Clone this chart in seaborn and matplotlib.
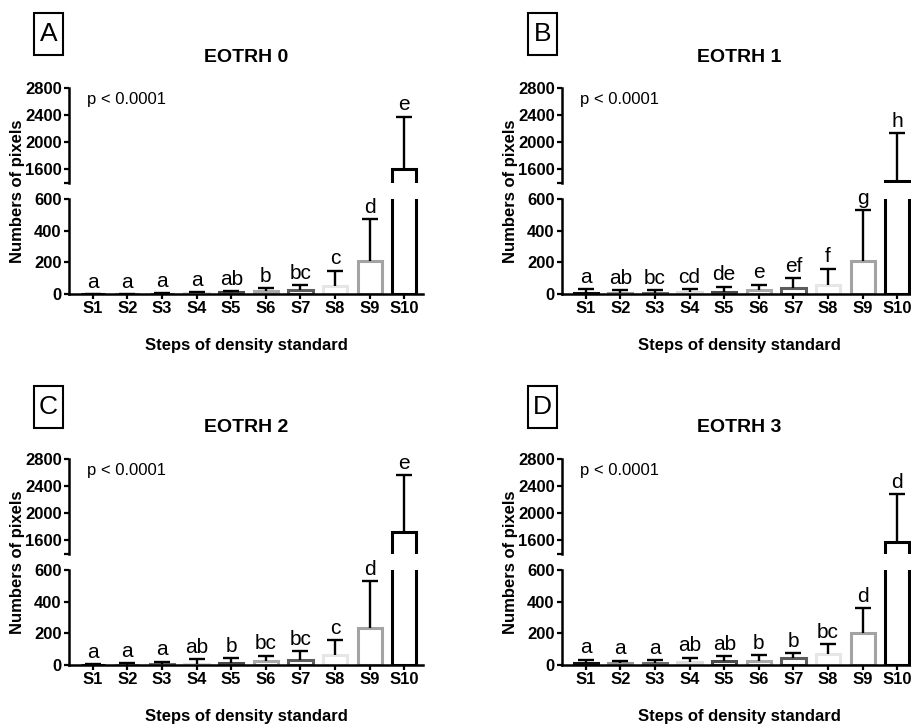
"""
Pixel counts per density step (S1-S10) for EOTRH grades 0-3
- broken y axis: lower part 0-600, upper part 1400-2800
- hollow bars with SD (upper only) and letters for group differences
"""

import numpy as np
import pandas as pd
import matplotlib.pyplot as plt
from matplotlib.patches import Rectangle
import seaborn as sns

sns.set_style('ticks')
plt.rcParams['font.family'] = ['Liberation Sans', 'DejaVu Sans']
for key in ['text.color', 'axes.labelcolor', 'xtick.color', 'ytick.color', 'axes.edgecolor']:
    plt.rcParams[key] = 'black'

STEPS = ['S1', 'S2', 'S3', 'S4', 'S5', 'S6', 'S7', 'S8', 'S9', 'S10']
EDGE_COLORS = ['#111111', '#999999', '#6e6e6e', '#dddddd', '#4a4a4a',
               '#aaaaaa', '#5c5c5c', '#e6e6e6', '#a3a3a3', '#000000']

PANEL_TAGS = ['A', 'B', 'C', 'D']
TITLES = ['EOTRH 0', 'EOTRH 1', 'EOTRH 2', 'EOTRH 3']
P_TEXT = 'p < 0.0001'

# means and upper SD
MEAN_0 = [1, 1, 2, 4, 10, 18, 24, 48, 210, 1610]
SD_0 = [0, 0, 4, 6, 8, 20, 32, 99, 265, 770]
LETTERS_0 = ['a', 'a', 'a', 'a', 'ab', 'b', 'bc', 'c', 'd', 'e']

MEAN_1 = [6, 5, 6, 10, 15, 23, 38, 59, 210, 1427]
SD_1 = [27, 18, 17, 23, 32, 36, 60, 101, 322, 706]
LETTERS_1 = ['a', 'ab', 'bc', 'cd', 'de', 'e', 'ef', 'f', 'g', 'h']

MEAN_2 = [3, 3, 5, 9, 15, 23, 33, 65, 232, 1731]
SD_2 = [4, 8, 16, 29, 30, 36, 53, 93, 300, 835]
LETTERS_2 = ['a', 'a', 'a', 'ab', 'b', 'bc', 'bc', 'c', 'd', 'e']

MEAN_3 = [11, 10, 12, 17, 25, 27, 42, 69, 202, 1581]
SD_3 = [23, 17, 20, 30, 32, 34, 34, 64, 156, 699]
LETTERS_3 = ['a', 'a', 'a', 'ab', 'ab', 'b', 'b', 'bc', 'd', 'd']

LO_TICKS = [0, 200, 400, 600]
HI_TICKS = [1600, 2000, 2400, 2800]
HI_BOTTOM = 1400

FIG_W, FIG_H = 912, 726


def px_rect(left, top, width, height):
    return [left / FIG_W, (FIG_H - top - height) / FIG_H, width / FIG_W, height / FIG_H]


def style_axis(ax):
    ax.tick_params(axis='both', direction='out', length=3.8, width=1.6,
                   labelsize=12, pad=1.5)
    for lab in ax.get_yticklabels() + ax.get_xticklabels():
        lab.set_fontweight('bold')
    for side in ['left', 'bottom']:
        ax.spines[side].set_linewidth(1.8)
    sns.despine(ax=ax)


def draw_panel(fig, idx, mean, sd, letters):
    col, row = idx % 2, idx // 2
    left = 69 + col * 493
    top_hi = 88 + row * 371
    top_lo = top_hi + 111
    ax_hi = fig.add_axes(px_rect(left, top_hi, 354, 95))
    ax_lo = fig.add_axes(px_rect(left, top_lo, 354, 95))

    df = pd.DataFrame({'step': STEPS, 'mean': mean, 'sd': sd})
    for ax in (ax_hi, ax_lo):
        sns.barplot(data=df, x='step', y='mean', hue='step', palette=EDGE_COLORS,
                    saturation=1, fill=False, width=0.7, linewidth=2.2,
                    errorbar=None, legend=False, ax=ax)
        xs = ax.get_xticks()
        eb = ax.errorbar(xs, df['mean'], yerr=[np.zeros(len(df)), df['sd']], fmt='none',
                         ecolor='black', elinewidth=1.7, capsize=5.5, capthick=1.7, zorder=3)
        # only the upper cap, like the original
        eb[1][0].set_visible(False)
        ax.set_xlim(-0.685, 9.54)
        ax.set_xlabel('')
        ax.set_ylabel('')

    ax_lo.set_ylim(LO_TICKS[0], LO_TICKS[-1])
    ax_lo.set_yticks(LO_TICKS)
    ax_hi.set_ylim(HI_BOTTOM, HI_TICKS[-1])
    ax_hi.set_yticks([HI_BOTTOM] + HI_TICKS)
    ax_hi.set_yticklabels([''] + [str(t) for t in HI_TICKS])
    style_axis(ax_lo)
    style_axis(ax_hi)
    ax_hi.spines['bottom'].set_visible(False)
    ax_hi.tick_params(axis='x', bottom=False, labelbottom=False)

    # significance letters above the error bars
    xs = ax_lo.get_xticks()
    for x, m, s, lab in zip(xs, df['mean'], df['sd'], letters):
        target = ax_hi if m + s > LO_TICKS[-1] else ax_lo
        target.annotate(lab, (x, m + s), xytext=(0, 4.5), textcoords='offset points',
                        ha='center', va='baseline', fontsize=15)

    ax_hi.text(0.05, 0.874, P_TEXT, transform=ax_hi.transAxes, va='center',
               ha='left', fontsize=12)

    cx = (left + 177) / FIG_W
    fig.text(cx, 1 - (57 + row * 371) / FIG_H, TITLES[idx], ha='center', va='center',
             fontsize=14, fontweight='bold')
    fig.text(cx, 1 - (345 + row * 372) / FIG_H, 'Steps of density standard',
             ha='center', va='center', fontsize=12, fontweight='bold')
    fig.text((18 + col * 493) / FIG_W, 1 - (191 + row * 371) / FIG_H, 'Numbers of pixels',
             ha='center', va='center', rotation=90, fontsize=12, fontweight='bold')

    # boxed panel tag
    bx, by = 34 + col * 494, 13 + row * 373
    box = Rectangle((bx / FIG_W, 1 - (by + 42) / FIG_H), 29 / FIG_W, 42 / FIG_H,
                    transform=fig.transFigure, fill=False, lw=1.5, edgecolor='black')
    fig.add_artist(box)
    fig.text((bx + 14.5) / FIG_W, 1 - (by + 21) / FIG_H, PANEL_TAGS[idx],
             ha='center', va='center', fontsize=19)


def main():
    fig = plt.figure(figsize=(FIG_W / 100, FIG_H / 100), dpi=100)
    panels = [(MEAN_0, SD_0, LETTERS_0), (MEAN_1, SD_1, LETTERS_1),
              (MEAN_2, SD_2, LETTERS_2), (MEAN_3, SD_3, LETTERS_3)]
    for i, (m, s, l) in enumerate(panels):
        draw_panel(fig, i, m, s, l)
    fig.savefig('out.png', dpi=100)
    plt.close(fig)


if __name__ == '__main__':
    main()
